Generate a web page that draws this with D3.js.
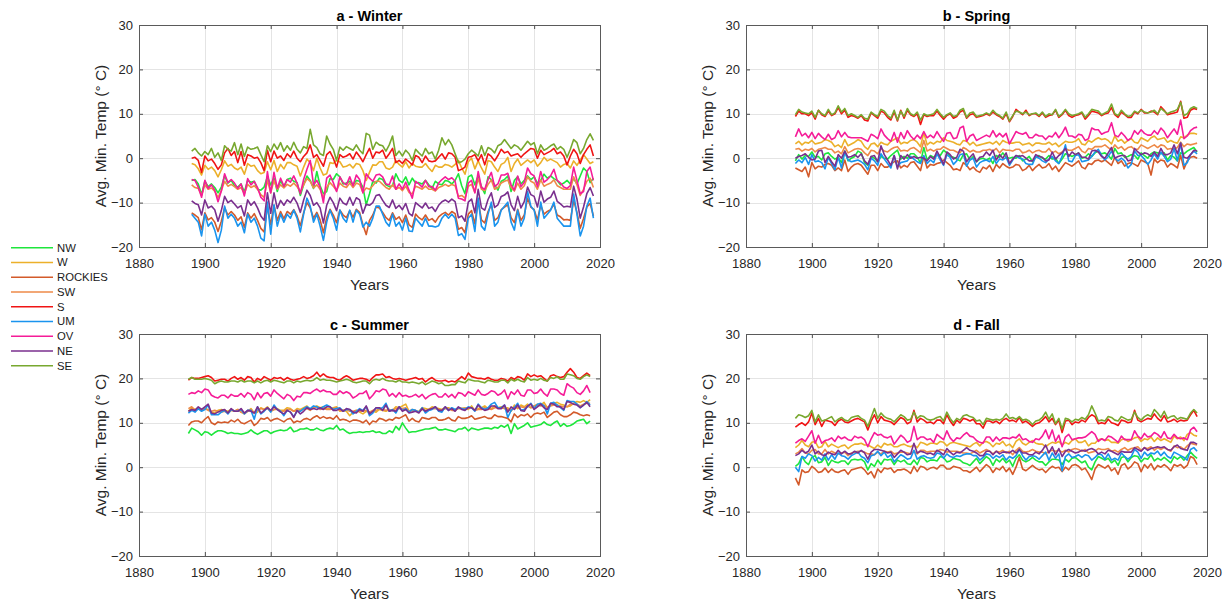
<!DOCTYPE html>
<html><head><meta charset="utf-8">
<script src="https://cdn.jsdelivr.net/npm/d3@7"></script>
<style>body{margin:0;background:#fff;} svg{display:block;font-family:Arial,"Liberation Sans",sans-serif;}</style>
</head><body><svg id="chart" width="1231" height="604"></svg>
<script>
const regions = ["NW","W","ROCKIES","SW","S","UM","OV","NE","SE"];
const panelTitles = ["a - Winter","b - Spring","c - Summer","d - Fall"];
const startYears = [1896, 1895, 1895, 1895];
const xTicks = [1880,1900,1920,1940,1960,1980,2000,2020];
const yTicks = [-20,-10,0,10,20,30];
const xLabel = "Years";
const yLabel = "Avg. Min. Temp (\u00B0 C)";

// ---------- WINTER (1896-2018) ----------
const winter_NW = [-5.0,-4.8,-5.8,-8.2,
-5.2,-6.4,-5.8,-6.6,-7.8,-6.5,-4.0,-5.6,-5.0,-6.2,
-6.5,-5.8,-7.6,-5.0,-5.4,-5.2,-7.0,-7.2,-6.5,-4.2,
-6.0,-4.5,-7.5,-5.0,-6.5,-4.8,-4.5,-5.2,-5.5,-8.4,
-6.0,-4.0,-5.0,-6.8,-3.0,-6.2,-8.0,-7.5,-4.6,-4.8,
-3.5,-4.2,-5.8,-5.6,-5.2,-6.0,-5.0,-5.2,-6.5,-10.5,
-8.0,-5.2,-5.6,-4.5,-4.8,-6.0,-6.4,-6.2,-3.5,-5.0,
-5.5,-4.2,-6.0,-4.5,-5.6,-5.5,-5.8,-5.0,-6.0,-6.8,
-5.2,-5.8,-6.0,-5.0,-5.2,-5.8,-5.0,-3.5,-6.2,-8.0,
-4.2,-3.8,-6.0,-4.0,-6.4,-8.0,-4.2,-4.8,-6.0,-7.2,
-5.2,-4.8,-4.0,-7.5,-5.0,-4.2,-5.8,-5.0,-4.0,-4.8,
-4.2,-5.6,-5.0,-3.6,-4.5,-4.0,-4.6,-5.0,-6.0,-5.6,
-5.0,-5.8,-4.6,-5.8,-4.0,-2.2,-3.0,-5.5,-4.5];
const winter_W = [-1.2,-1.5,-2.4,-3.8,
-1.6,-2.5,-2.0,-2.8,-4.2,-2.6,-0.6,-1.8,-1.4,-2.2,
-2.6,-2.0,-3.6,-1.2,-1.8,-1.6,-2.8,-3.5,-3.2,-0.8,
-2.6,-0.5,-3.0,-1.4,-2.4,-1.0,-1.0,-1.5,-1.8,-4.0,
-2.0,-0.2,-1.0,-2.8,0.0,-2.2,-3.8,-3.5,-1.0,-1.2,
-0.5,-0.8,-2.0,-1.8,-1.4,-2.2,-1.2,-1.4,-2.8,-5.0,
-3.2,-1.5,-1.6,-0.8,-0.8,-2.2,-2.5,-2.0,-0.5,-1.4,
-2.0,-0.8,-2.2,-1.2,-1.8,-2.0,-2.0,-1.2,-2.2,-3.0,
-1.6,-2.0,-2.0,-1.4,-1.6,-2.0,-1.4,-0.5,-2.2,-3.6,
-0.8,0.0,-2.4,-0.6,-2.2,-3.6,-0.5,-0.8,-2.0,-3.0,
-1.4,-1.0,0.2,-3.0,-1.2,-0.2,-1.6,-1.0,-0.4,-1.0,
-0.4,-1.8,-1.0,0.2,-0.6,-0.2,-0.6,-1.0,-2.0,-1.4,
-1.2,-2.2,-0.6,-1.6,-0.4,0.8,-0.2,-1.2,-0.8];
const winter_ROCKIES = [-12.3,-12.8,-13.4,-16.1,
-12.3,-13.9,-13.4,-14.4,-16.5,-14.2,-11.2,-12.8,-12.0,-12.8,
-14.0,-13.2,-15.6,-12.3,-13.5,-12.5,-14.0,-15.8,-16.6,-10.8,
-15.0,-10.6,-14.0,-12.0,-13.6,-12.0,-12.6,-11.6,-13.0,-15.2,
-12.3,-10.0,-11.2,-13.5,-12.2,-13.9,-16.8,-13.4,-11.5,-12.8,
-14.5,-11.7,-12.8,-13.4,-11.8,-13.3,-11.5,-12.2,-15.0,-17.2,
-14.0,-12.8,-11.0,-11.2,-12.2,-13.4,-14.0,-12.3,-13.8,-13.2,
-14.5,-12.8,-15.0,-15.6,-12.6,-13.4,-13.9,-12.8,-14.0,-13.6,
-14.4,-13.2,-12.6,-12.2,-12.8,-12.0,-12.5,-16.0,-15.6,-16.8,
-12.6,-11.8,-14.8,-9.6,-13.9,-14.6,-12.0,-10.5,-14.0,-13.4,
-11.6,-11.0,-10.5,-13.4,-14.5,-11.5,-14.0,-12.8,-9.0,-11.0,
-11.6,-13.9,-10.6,-12.6,-12.0,-11.6,-10.4,-12.8,-13.2,-13.9,
-13.8,-14.0,-9.5,-12.2,-15.8,-13.6,-11.0,-10.2,-13.0];
const winter_SW = [-6.0,-6.6,-6.8,-8.4,
-6.0,-7.0,-6.7,-7.4,-8.8,-7.3,-5.2,-6.3,-5.9,-6.4,
-7.0,-6.6,-8.0,-5.9,-6.6,-6.2,-7.0,-8.2,-8.8,-5.0,
-7.8,-5.0,-7.0,-6.0,-6.7,-5.9,-6.3,-5.6,-6.4,-7.6,
-6.0,-4.6,-5.2,-6.7,-6.0,-7.0,-9.0,-6.6,-5.5,-6.3,
-7.3,-5.6,-6.3,-6.6,-5.6,-6.6,-5.6,-5.9,-7.7,-6.7,
-7.0,-6.2,-5.2,-5.2,-5.9,-6.6,-7.0,-6.0,-7.0,-6.6,
-7.3,-6.3,-7.7,-8.0,-6.3,-6.6,-7.0,-6.3,-7.0,-7.0,
-7.4,-6.6,-6.3,-5.9,-6.3,-5.9,-6.2,-8.6,-8.4,-9.0,
-6.3,-5.9,-7.7,-4.6,-7.0,-7.3,-5.9,-4.9,-7.0,-6.6,
-5.6,-5.2,-4.9,-6.6,-7.4,-5.6,-7.0,-6.2,-4.2,-5.2,
-5.6,-7.0,-4.9,-6.3,-5.9,-5.6,-4.9,-6.2,-6.6,-7.0,
-7.0,-7.0,-4.2,-6.0,-8.4,-7.0,-5.2,-4.5,-6.6];
const winter_S = [0.0,0.2,-0.5,-3.2,
0.5,-0.6,-0.2,-1.2,-2.5,-1.5,1.2,2.2,0.6,1.5,
-1.0,1.5,-1.6,0.8,0.5,0.0,0.2,-1.0,-2.8,1.8,
-0.8,1.6,0.0,0.5,-0.5,1.0,0.2,1.6,0.0,-0.8,
0.4,1.2,3.0,0.2,0.8,-0.5,-1.8,0.8,1.5,0.0,
-2.0,0.8,0.2,0.5,1.0,-0.2,1.4,0.4,-0.8,0.8,
2.2,0.0,1.4,1.2,1.8,0.0,1.0,2.2,-1.0,-0.5,
-1.2,-0.2,-0.8,-1.5,0.6,0.2,-1.0,0.5,-0.6,-0.8,
-0.6,0.2,1.0,-0.2,1.2,1.0,0.2,-2.8,-2.5,-2.0,
0.2,0.4,0.8,-0.6,0.8,-1.5,1.0,0.4,-0.6,0.6,
2.0,1.2,1.5,0.5,0.8,1.0,0.2,1.0,1.6,2.2,
2.0,0.0,1.8,0.8,1.2,1.6,2.2,1.0,1.4,0.5,
-1.5,0.5,2.0,1.0,-1.2,0.8,2.0,3.0,0.5];
const winter_UM = [-12.6,-13.5,-14.4,-17.5,
-12.6,-15.3,-14.4,-16.2,-19.0,-16.2,-10.8,-13.5,-12.6,-13.5,
-15.3,-14.4,-16.8,-12.6,-14.4,-13.5,-15.3,-18.0,-18.6,-9.9,
-17.1,-10.5,-15.3,-12.6,-14.4,-12.6,-13.5,-11.7,-13.5,-16.6,
-12.6,-9.0,-10.8,-14.4,-12.6,-15.3,-18.5,-14.4,-11.7,-13.5,
-16.2,-11.7,-13.5,-14.4,-11.7,-14.4,-11.7,-12.6,-15.5,-14.4,
-15.3,-13.5,-10.8,-10.8,-12.6,-14.4,-15.3,-12.6,-15.3,-14.4,
-16.2,-13.5,-16.4,-16.5,-13.5,-14.4,-15.3,-13.5,-15.3,-15.3,
-15.5,-15.2,-13.5,-12.6,-13.5,-12.6,-13.5,-17.4,-17.0,-18.3,
-13.5,-12.6,-16.5,-9.0,-15.3,-16.2,-12.6,-9.9,-15.3,-14.4,
-11.7,-10.8,-9.9,-14.4,-16.2,-11.7,-15.3,-13.5,-7.5,-10.8,
-11.7,-15.3,-9.9,-13.5,-12.6,-11.7,-9.9,-13.5,-14.4,-15.3,
-15.3,-15.3,-8.1,-12.6,-17.5,-15.3,-10.8,-9.0,-13.5];
const winter_OV = [-4.8,-5.0,-6.5,-8.8,
-5.0,-6.8,-6.0,-7.2,-9.8,-7.4,-3.5,-5.5,-4.8,-5.6,
-6.8,-5.8,-8.5,-4.6,-6.0,-5.2,-6.6,-8.8,-9.6,-3.0,
-7.8,-3.2,-6.8,-4.5,-6.3,-4.8,-5.4,-4.0,-5.6,-8.0,
-4.8,-2.5,-0.5,-6.0,-5.0,-6.5,-10.0,-4.5,-3.8,-5.5,
-7.5,-4.2,-5.5,-6.0,-4.2,-6.2,-3.8,-4.8,-7.8,-3.5,
-4.5,-5.2,-3.8,-3.6,-4.2,-5.8,-6.0,-4.0,-7.0,-5.8,
-7.0,-5.4,-7.2,-9.0,-5.2,-5.8,-6.5,-5.0,-6.4,-6.4,
-7.2,-5.6,-4.8,-4.2,-4.8,-4.4,-5.2,-9.0,-9.2,-9.6,
-5.6,-5.0,-7.8,-3.0,-6.6,-7.0,-4.8,-3.2,-6.4,-5.8,
-3.8,-3.8,-3.4,-6.0,-7.2,-4.0,-6.4,-5.4,-2.2,-3.5,
-4.0,-6.4,-3.0,-5.4,-4.8,-4.0,-2.5,-5.0,-5.6,-6.5,
-6.8,-6.2,-2.0,-5.0,-8.0,-7.5,-3.0,-2.0,-5.0];
const winter_NE = [-9.6,-10.2,-10.5,-12.8,
-9.4,-11.2,-10.8,-11.6,-14.2,-11.8,-8.6,-10.0,-9.5,-10.3,
-11.2,-10.7,-13.0,-9.4,-10.6,-9.8,-11.2,-13.0,-14.0,-7.8,
-12.4,-7.8,-11.3,-9.5,-10.6,-9.4,-10.0,-8.8,-10.1,-12.2,
-9.4,-7.2,-8.4,-10.6,-10.0,-11.2,-14.6,-10.6,-8.8,-10.0,
-11.8,-9.0,-10.1,-10.5,-8.8,-10.6,-8.9,-9.4,-12.4,-10.4,
-10.6,-10.0,-8.4,-8.2,-9.5,-10.6,-11.1,-9.4,-11.3,-10.6,
-11.6,-10.2,-12.4,-13.0,-10.0,-10.6,-11.2,-10.1,-11.3,-11.0,
-12.0,-10.6,-9.8,-9.4,-9.9,-9.2,-9.8,-13.4,-13.0,-14.2,
-9.9,-9.2,-12.3,-7.0,-11.2,-11.7,-9.3,-7.8,-11.1,-10.5,
-8.6,-8.3,-7.6,-10.5,-11.8,-8.6,-11.2,-9.8,-6.5,-8.2,
-8.6,-11.0,-7.4,-9.9,-9.2,-8.8,-7.4,-9.7,-10.3,-11.0,
-10.8,-11.0,-6.3,-9.2,-13.5,-11.0,-8.0,-6.6,-8.5];
const winter_SE = [1.6,2.2,1.2,0.5,
1.5,0.8,2.2,0.2,1.2,-0.5,2.8,2.0,1.6,3.5,
0.8,3.2,0.4,2.5,2.0,2.2,2.5,0.8,-0.8,2.8,
1.5,3.2,2.0,3.5,1.6,2.8,1.8,3.6,2.0,1.2,
2.6,2.2,6.5,3.0,2.4,1.0,0.6,5.0,3.2,2.0,
-0.5,2.5,1.8,2.6,2.2,1.8,3.0,1.8,1.0,5.6,
5.2,2.0,3.6,3.0,2.8,1.6,3.0,5.0,0.6,1.6,
0.5,1.8,1.0,-0.5,2.0,1.2,0.5,2.2,1.0,1.4,
-0.2,1.8,4.6,3.0,4.2,3.0,1.0,-1.0,-0.8,-0.2,
1.0,1.8,1.2,0.5,2.8,0.6,2.4,2.0,1.2,2.8,
3.2,4.2,3.2,2.2,3.0,2.6,1.8,2.8,3.8,3.0,
3.5,1.0,3.0,1.8,2.2,2.8,3.2,2.0,2.6,2.0,
0.2,2.0,4.2,3.5,1.0,2.2,4.2,5.5,4.0];

// ---------- SPRING (1895-2017) ----------
const spring_NW = [-0.6,0.8,-0.2,0.6,0.4,
1.4,0.2,0.4,-0.4,1.0,1.2,0.4,-0.2,0.2,-1.0,
1.6,-0.6,0.0,0.4,1.6,1.2,-1.0,-1.6,0.4,0.0,
-0.8,0.4,0.0,-0.2,0.6,1.2,1.8,-0.2,0.4,0.0,
1.0,1.0,0.2,-1.0,2.4,-0.4,0.6,0.2,0.8,0.6,
1.8,1.2,0.4,0.2,-0.2,-0.6,0.8,1.0,-0.4,0.4,
-0.8,-0.2,0.0,-0.4,0.0,-1.2,0.6,0.2,1.2,0.2,
0.0,0.2,0.0,0.6,-0.6,-0.2,0.4,-0.8,0.2,0.6,
0.0,-0.2,0.6,-0.2,0.0,-1.2,-0.2,1.0,0.8,0.4,
0.8,1.2,0.0,0.2,1.0,0.4,1.2,1.6,1.0,1.2,
0.6,-0.2,2.2,1.0,1.2,0.2,0.4,0.8,0.6,-0.2,
1.2,0.6,0.0,1.0,1.4,1.2,1.0,1.2,-0.4,0.6,
0.2,-0.6,1.2,1.0,1.6,2.0,2.4,1.4];
const spring_W = [3.2,3.8,3.0,3.6,3.4,
4.0,3.2,3.4,3.6,4.2,4.0,3.6,2.6,3.0,2.4,
4.2,2.8,3.2,3.6,4.2,3.8,2.6,2.0,3.2,3.4,
2.6,3.6,3.2,3.0,3.8,4.2,4.6,3.2,3.6,3.4,
4.0,4.2,3.6,2.6,5.8,3.0,3.6,3.2,3.8,3.6,
4.6,4.0,3.8,3.6,3.2,3.0,4.0,3.8,3.0,3.6,
2.8,3.0,3.2,3.4,3.6,3.2,3.8,3.0,4.0,3.6,
3.4,3.4,3.6,3.6,3.0,3.2,3.4,2.8,3.4,3.4,
3.2,3.2,3.6,3.0,3.4,2.6,3.2,3.8,3.6,3.6,
3.8,4.4,3.2,3.0,4.0,3.6,4.2,4.6,4.2,4.4,
4.0,3.2,5.0,3.8,4.2,3.4,4.0,4.4,3.6,3.4,
4.6,4.2,3.8,4.6,5.0,4.2,4.4,4.6,3.6,4.0,
3.6,3.4,4.8,4.6,5.2,5.6,5.6,5.4];
const spring_ROCKIES = [-2.2,-2.6,-3.0,-2.0,-4.2,
-1.0,-2.4,-1.8,-2.0,-1.4,-1.2,-1.6,-2.8,-2.2,-2.8,
-0.4,-3.0,-2.0,-1.4,-1.2,-1.6,-2.6,-3.6,-1.6,-1.6,
-2.8,-1.2,-2.0,-2.0,-1.4,-0.8,-0.6,-2.2,-1.6,-2.0,
-1.0,-0.8,-1.8,-2.8,0.4,-2.2,-1.4,-1.6,-1.2,-1.0,
-0.4,-1.0,-1.6,-2.6,-2.4,-2.8,-1.0,-1.6,-2.6,-2.0,
-2.8,-3.2,-2.0,-2.4,-1.6,-3.0,-1.4,-2.2,-1.2,-1.8,
-2.2,-2.0,-1.4,-1.6,-2.8,-2.4,-1.6,-2.8,-2.0,-1.4,
-2.2,-2.0,-1.2,-2.6,-1.8,-3.0,-2.0,-1.0,-1.4,-1.8,
-1.2,-0.6,-2.0,-2.4,-1.2,-1.4,-0.6,-0.4,-0.8,-0.4,
-1.0,-1.6,0.2,-1.2,-0.6,-1.8,-1.2,-1.0,-1.4,-1.8,
-0.4,-0.8,-1.2,-3.8,-0.2,-1.0,-0.4,-0.6,-2.0,-1.2,
-1.6,-2.2,0.6,-2.4,-0.6,0.2,0.4,0.0];
const spring_SW = [2.0,2.2,1.6,2.0,1.8,
2.2,1.4,2.0,2.2,2.4,2.0,2.0,1.2,1.6,1.0,
2.6,1.2,1.6,2.0,2.2,2.0,1.2,0.6,1.8,1.6,
1.0,2.2,1.6,1.4,2.0,2.4,2.6,1.6,1.8,1.6,
2.2,2.4,1.8,1.2,4.0,1.6,2.0,1.6,2.0,2.0,
2.6,2.2,1.8,1.8,1.4,1.2,2.4,2.0,1.4,1.8,
1.4,1.4,1.8,1.8,2.0,1.6,2.2,1.2,2.0,1.8,
1.8,1.6,2.0,2.0,1.2,1.4,1.8,1.2,1.6,1.8,
1.4,1.4,2.2,1.2,1.6,1.0,1.4,2.2,1.8,1.8,
2.2,2.6,1.6,1.2,2.2,2.0,2.6,2.6,2.6,3.0,
2.4,1.8,3.0,2.2,2.6,1.8,2.4,2.6,2.0,2.0,
3.0,2.6,2.2,2.6,3.0,2.4,3.0,2.8,2.0,2.2,
2.0,2.4,3.6,2.6,3.2,3.0,3.2,3.4];
const spring_S = [9.4,10.6,10.0,10.0,9.6,
10.2,8.8,10.8,9.8,9.4,10.6,9.6,10.0,11.4,10.0,
10.8,9.2,9.6,9.4,9.0,9.6,8.6,8.4,10.2,9.6,
9.0,10.6,10.2,9.2,8.6,10.4,8.4,10.8,9.0,10.8,
9.8,9.4,10.0,7.6,9.8,9.4,9.6,9.6,10.6,9.6,
8.8,9.6,10.0,9.0,9.4,10.4,10.8,9.0,9.8,10.0,
9.2,9.4,9.6,10.0,9.6,10.4,9.8,9.4,8.8,10.0,
8.2,9.4,11.0,10.4,9.8,10.8,9.6,10.0,10.0,9.4,
10.2,9.2,9.6,9.8,10.8,9.2,9.8,10.8,9.6,9.2,
9.6,9.8,10.2,8.8,9.6,10.6,10.4,10.2,9.6,10.0,
10.2,11.4,9.8,9.2,10.4,9.8,9.2,9.2,10.4,10.0,
11.0,10.2,10.2,10.6,10.4,9.8,11.6,10.8,9.8,10.0,
10.2,10.4,12.8,9.0,9.2,10.8,11.2,11.0];
const spring_UM = [-1.2,-0.4,-1.0,0.2,-1.4,
0.8,-0.8,-0.6,-1.0,-2.4,0.2,-1.2,-2.6,0.2,-2.2,
1.4,-0.4,-0.8,-0.6,-0.4,-0.8,-1.4,-2.6,0.0,-0.6,
-1.6,1.0,-0.2,-1.2,-2.2,0.6,-2.0,-1.0,-0.8,-0.6,
0.4,-0.2,-0.8,-1.2,0.6,-1.2,-0.4,-1.0,1.0,-0.4,
-1.6,0.8,0.2,-1.4,-0.6,0.8,1.0,-1.8,-0.4,0.0,
-2.0,-1.0,-0.6,-0.4,-0.8,0.4,-1.2,-0.2,-0.4,0.2,
-1.6,-0.4,0.6,0.0,-0.2,-1.2,-1.4,-1.4,0.4,0.0,
-0.6,-1.0,-0.2,0.4,-0.6,-1.2,0.4,3.0,-0.6,-0.8,
0.6,0.8,-0.8,-0.6,-0.4,0.4,1.4,2.0,0.6,-0.4,
0.4,1.6,0.0,-0.6,0.0,-0.6,-2.2,-1.4,1.6,0.6,
0.6,-0.2,-1.4,-0.4,1.0,-0.2,1.4,0.4,-0.8,-0.2,
2.2,-0.6,3.4,-1.6,-1.0,0.8,1.6,1.0];
const spring_OV = [4.8,6.6,5.0,5.6,4.6,
5.8,4.4,5.6,4.8,4.2,5.4,4.2,4.6,6.2,4.8,
5.8,4.8,4.6,4.6,4.6,4.6,4.2,3.8,5.4,5.0,
4.4,6.6,5.2,4.4,3.8,5.8,3.6,5.8,4.4,6.2,
5.0,4.2,5.2,4.4,6.0,4.6,5.2,4.6,6.0,4.8,
3.8,5.6,5.8,4.4,4.6,6.8,7.2,3.8,5.0,5.4,
4.0,4.4,4.8,5.2,4.8,6.2,4.8,5.6,4.8,5.6,
3.2,4.6,6.0,5.6,5.4,5.8,4.6,4.6,5.4,5.0,
5.0,4.2,5.0,4.8,5.8,4.6,5.6,7.0,5.0,5.0,
4.6,5.4,5.2,4.0,4.4,6.8,6.4,6.4,5.4,5.8,
6.0,8.0,5.2,4.8,5.8,5.0,4.0,4.6,6.2,5.4,
6.4,5.6,5.2,5.2,6.2,5.4,6.8,6.0,4.6,5.6,
6.6,5.4,8.6,4.4,5.0,6.2,6.8,7.0];
const spring_NE = [0.0,0.4,0.6,1.0,0.2,
-0.4,-0.2,1.6,1.8,-1.0,0.4,-0.8,-1.8,0.8,0.0,
1.6,0.2,0.4,0.8,0.2,1.0,-0.6,-1.4,0.4,0.6,
-0.8,2.8,0.8,-0.4,-1.6,0.6,-2.4,0.6,-0.2,0.8,
0.0,0.4,0.0,0.2,0.0,-0.6,0.4,-0.2,1.6,0.2,
-1.4,1.4,0.8,-0.2,0.2,2.0,1.6,-0.8,0.2,1.0,
-0.8,0.2,0.4,1.4,0.6,1.8,-0.4,0.8,0.0,1.2,
-1.2,-0.2,0.6,0.4,0.6,0.0,-0.6,-0.6,0.8,0.4,
0.2,-0.6,-0.4,1.4,-0.2,0.6,1.2,2.2,0.4,1.4,
0.8,1.2,0.2,0.2,-0.2,1.6,1.8,1.4,0.4,0.0,
1.2,2.4,0.0,0.4,0.6,0.6,-0.6,-0.4,2.2,1.4,
0.8,1.2,1.0,0.4,1.4,0.4,2.2,0.8,0.8,1.2,
3.0,1.0,3.4,0.2,0.0,0.8,1.8,1.6];
const spring_SE = [9.8,11.0,10.4,10.2,10.0,
10.6,9.2,10.8,10.0,9.6,11.0,9.8,10.2,11.8,10.4,
11.2,9.6,10.0,9.6,9.2,9.8,9.0,8.8,10.4,9.8,
9.4,11.0,10.6,9.6,9.0,10.8,8.6,10.6,9.4,11.2,
10.0,9.6,10.4,8.6,10.0,9.6,9.8,10.0,11.0,10.0,
9.2,9.8,10.2,9.4,9.6,10.8,11.2,9.2,10.2,10.4,
9.4,9.6,9.8,10.2,9.8,10.8,10.0,9.6,9.0,10.4,
8.4,9.6,10.6,10.4,10.0,10.4,9.8,10.0,10.2,9.6,
10.4,9.4,10.0,9.8,11.0,9.4,10.0,11.0,10.0,9.6,
9.8,10.0,10.4,9.2,10.0,11.0,10.8,10.6,9.8,10.2,
10.6,12.2,10.0,9.6,10.8,10.0,9.4,9.6,10.6,10.2,
10.8,10.4,10.2,10.4,10.8,10.0,11.2,10.6,10.0,10.4,
10.6,11.0,12.6,9.6,10.0,11.2,11.6,11.2];

// ---------- SUMMER (1895-2017) ----------
const summer_NW = [7.6,8.8,8.4,8.0,7.2,
8.0,7.8,7.2,7.8,8.2,8.2,8.0,7.6,7.8,7.6,
7.6,7.4,7.6,7.8,8.4,7.8,7.4,7.8,8.2,8.2,
7.6,8.0,8.2,8.4,8.2,8.4,9.0,8.0,8.2,8.6,
8.6,8.8,8.4,8.4,8.8,8.4,8.2,8.6,8.8,8.6,
9.4,8.4,8.6,8.0,7.6,7.8,7.8,8.0,7.8,8.0,
8.0,8.2,7.8,8.0,7.6,7.6,8.2,7.8,9.2,8.4,
10.0,8.8,7.8,8.0,8.0,8.2,8.4,8.6,8.6,8.8,
9.0,8.4,8.4,8.6,8.4,8.2,8.0,8.6,8.6,9.0,
8.2,8.8,8.6,8.4,8.6,8.8,8.8,8.6,9.0,8.8,
9.4,9.0,9.6,7.6,9.8,8.6,9.0,9.4,10.0,9.0,
9.2,9.4,9.6,10.2,9.6,9.4,10.0,10.4,9.2,9.8,
9.2,9.4,9.8,10.4,10.6,10.8,9.8,10.4];
const summer_W = [12.6,13.4,13.0,13.2,12.8,
13.2,13.0,12.4,12.2,12.8,13.0,12.8,12.6,13.0,12.6,
13.0,12.4,12.0,12.6,13.2,12.2,12.4,13.4,13.0,13.6,
12.6,13.0,13.2,12.8,12.8,13.4,13.2,12.6,13.2,13.0,
13.4,13.8,13.0,13.4,13.8,13.4,13.6,13.2,13.2,13.4,
13.6,12.6,12.8,12.6,11.6,12.4,12.8,12.4,12.0,12.6,
12.4,12.6,12.4,13.0,12.8,12.6,13.0,12.8,13.6,13.4,
13.8,14.2,12.6,12.8,12.6,12.6,13.4,13.2,13.0,13.6,
13.4,13.2,13.0,13.4,13.4,13.0,12.8,13.4,13.2,13.4,
13.0,13.8,12.8,13.2,13.4,13.8,13.2,13.2,13.8,13.4,
13.6,13.2,13.4,12.6,14.0,13.2,14.0,13.6,14.2,13.4,
13.8,14.2,14.0,14.6,13.4,14.0,14.4,14.6,14.2,14.0,
13.6,13.8,14.4,14.8,14.6,15.0,14.6,15.2];
const summer_ROCKIES = [9.4,10.2,10.4,10.4,10.0,
10.8,11.4,10.0,9.6,10.2,10.0,10.2,10.0,10.6,10.2,
10.8,10.0,9.8,10.2,10.6,9.4,10.0,11.0,10.8,11.2,
10.4,10.8,11.0,10.6,10.2,10.8,11.0,10.0,10.4,10.2,
10.8,11.0,10.6,11.2,11.6,11.0,11.4,11.0,11.2,10.8,
11.6,10.6,10.8,10.6,10.2,10.6,10.6,10.4,10.0,10.6,
9.6,10.4,10.2,11.0,10.8,10.4,10.8,10.6,11.2,11.0,
11.4,11.8,10.4,11.0,10.4,10.2,11.2,11.0,10.8,11.2,
11.2,10.6,10.6,10.8,11.2,10.6,10.4,11.4,11.0,11.0,
11.2,11.6,10.8,11.0,11.2,11.4,11.0,11.0,11.8,11.4,
11.4,11.2,11.0,10.2,12.0,11.2,11.8,11.6,12.0,11.2,
12.0,12.2,12.0,12.4,11.2,11.8,12.4,12.6,11.8,11.4,
11.4,11.8,12.4,12.2,11.8,11.6,11.8,11.6];
const summer_SW = [13.2,13.6,12.8,13.4,13.0,
13.2,12.8,12.6,12.8,12.6,12.4,12.6,12.2,12.8,12.6,
13.0,12.4,12.2,12.6,13.0,12.2,12.8,13.2,13.0,13.2,
12.6,13.0,13.0,12.6,12.6,13.0,13.0,12.6,12.8,12.8,
13.0,13.2,12.8,13.4,13.6,13.0,13.2,13.0,13.0,13.2,
13.4,12.8,12.8,13.0,12.6,12.6,12.8,12.6,12.6,12.8,
12.4,12.8,12.8,13.2,13.0,12.8,13.0,12.8,13.2,13.2,
13.2,13.4,12.6,13.0,12.8,12.4,13.0,12.8,12.8,13.2,
13.2,13.0,12.8,13.2,13.2,12.8,12.8,13.2,13.2,13.2,
13.4,13.4,12.8,13.0,13.0,13.4,13.2,13.0,13.4,13.4,
13.4,13.2,13.0,12.8,13.6,13.4,13.6,13.4,13.8,13.4,
13.8,14.0,13.8,14.0,13.4,13.8,14.0,14.0,13.8,13.6,
13.6,14.2,14.2,14.2,13.8,14.2,14.4,14.4];
const summer_S = [19.6,20.2,20.0,20.0,20.2,
20.4,20.6,20.2,19.4,19.6,19.8,19.8,19.4,20.0,20.4,
19.8,20.2,19.6,20.4,20.2,19.2,20.0,19.6,20.4,20.0,
19.6,20.2,20.0,20.2,19.6,20.2,19.8,19.6,19.8,20.0,
20.4,20.0,20.2,20.6,21.4,20.4,21.0,20.4,20.2,20.2,
19.8,19.6,20.2,20.6,20.2,19.6,19.8,20.0,20.0,19.8,
19.4,20.2,20.8,20.8,21.0,20.2,20.4,20.0,19.8,20.0,
19.8,19.6,19.8,20.0,20.2,19.8,20.0,19.2,19.8,20.2,
19.6,19.4,19.4,19.6,19.2,19.4,19.2,19.8,20.4,19.8,
21.2,20.4,20.2,20.0,20.0,19.8,20.2,19.8,19.6,19.6,
20.0,19.8,19.4,20.2,19.8,20.4,20.2,19.6,21.0,20.4,
20.8,20.4,20.6,20.0,19.4,20.6,20.8,20.4,20.2,20.4,
21.4,22.2,21.4,20.2,20.0,20.6,21.2,20.6];
const summer_UM = [12.2,12.8,12.4,13.2,12.6,
13.0,14.0,11.8,11.8,11.8,12.4,12.8,12.0,13.0,12.6,
12.6,13.0,12.0,12.8,12.8,10.8,13.6,12.0,12.6,13.4,
12.4,14.0,13.0,12.6,11.6,12.8,12.4,11.4,12.6,12.6,
13.2,13.6,13.2,13.8,13.6,13.2,13.6,14.0,13.6,13.0,
13.2,13.4,12.6,13.0,13.0,12.0,12.6,13.2,12.8,13.6,
11.6,12.2,13.4,13.2,13.4,14.4,12.6,13.0,12.2,13.6,
12.8,13.2,12.4,13.0,12.8,12.4,13.4,12.2,12.8,13.0,
13.6,12.6,12.4,13.6,12.8,13.4,13.0,13.4,13.2,13.0,
13.6,13.4,12.6,14.2,13.4,13.0,13.4,14.2,14.6,13.4,
13.4,14.0,11.2,12.8,13.4,14.4,12.8,13.0,13.6,14.4,
13.2,14.2,14.4,13.8,12.0,14.4,14.6,14.0,13.4,12.8,
15.0,14.8,14.8,14.2,13.4,14.0,14.8,14.0];
const summer_OV = [16.4,16.8,16.6,17.2,16.8,
17.6,17.4,16.2,15.8,15.6,16.2,16.2,15.6,16.4,16.0,
16.0,16.6,15.8,16.8,16.4,15.2,16.8,15.6,16.6,16.8,
16.0,17.4,16.6,16.0,15.4,16.4,16.0,15.0,16.0,15.8,
16.8,16.8,16.6,17.2,17.6,17.0,17.4,17.0,17.0,16.4,
16.4,17.2,16.6,17.0,16.6,15.6,16.0,16.6,16.6,17.2,
15.4,16.2,17.2,17.0,17.6,17.4,16.0,16.6,15.8,16.8,
16.0,16.2,15.8,16.0,16.4,15.8,16.4,15.4,16.0,16.4,
16.6,15.8,15.8,16.6,15.8,16.4,15.6,16.8,16.6,16.0,
17.0,16.6,16.2,17.4,16.4,16.2,16.6,17.2,17.0,16.2,
16.6,17.4,15.4,17.0,16.4,17.4,16.2,16.0,17.4,17.4,
16.6,16.8,17.6,16.6,16.0,17.6,17.6,17.4,16.6,16.2,
18.8,18.2,17.8,16.8,16.4,17.2,18.4,16.8];
const summer_NE = [12.6,13.0,12.8,13.6,13.0,
13.6,14.2,12.2,12.0,12.4,12.8,13.0,12.2,13.2,12.6,
12.6,13.2,12.2,12.8,12.6,12.2,13.6,12.2,12.8,13.4,
12.8,13.6,13.0,12.4,12.0,12.8,12.4,11.2,12.8,12.0,
12.6,13.4,13.0,13.2,13.0,13.4,13.0,13.6,13.6,12.8,
12.8,13.2,12.6,13.2,13.0,12.4,12.2,13.0,12.6,13.8,
12.0,12.6,13.4,13.4,12.8,14.0,12.6,12.8,12.6,13.6,
12.6,13.0,12.2,12.4,12.6,12.2,13.2,12.6,13.0,13.2,
13.6,12.8,12.8,13.6,12.8,13.2,12.6,13.6,13.0,12.8,
13.4,13.4,12.8,14.0,13.2,12.8,13.0,13.8,13.8,13.2,
13.2,14.0,12.4,13.6,13.0,14.0,12.8,12.6,13.8,14.2,
13.0,13.6,14.2,13.4,13.0,14.4,14.2,13.6,13.6,13.0,
14.8,14.6,14.2,14.0,13.4,14.0,14.6,13.6];
const summer_SE = [19.8,20.2,19.8,19.8,19.8,
20.0,19.8,19.6,18.8,19.2,19.4,19.2,19.2,19.4,19.4,
19.2,19.6,19.2,19.4,19.4,19.0,19.4,19.0,19.4,19.6,
19.2,19.6,19.4,19.2,19.0,19.4,19.4,19.0,19.4,19.2,
19.4,19.6,19.4,19.6,20.2,19.6,19.8,19.6,19.6,19.4,
19.2,19.4,19.6,19.8,19.6,19.2,19.0,19.2,19.4,19.4,
18.8,19.6,19.8,19.6,20.0,19.6,19.4,19.4,19.2,19.6,
19.2,19.2,19.0,19.2,19.0,18.8,19.2,18.6,19.0,19.4,
19.2,18.8,19.0,18.4,18.4,18.6,18.6,19.4,19.2,19.0,
19.8,19.6,19.4,19.4,19.2,19.0,19.6,19.4,19.2,19.2,
19.6,19.6,19.0,19.8,19.4,19.8,19.4,19.2,20.2,19.6,
19.8,19.6,20.0,19.6,19.4,20.2,20.0,20.4,19.8,19.8,
21.0,20.8,20.6,20.0,19.8,20.4,20.8,20.4];

// ---------- FALL (1895-2017) ----------
const fall_NW = [0.2,0.8,2.4,1.2,0.6,
2.2,2.6,1.0,1.2,2.2,0.4,1.6,1.2,1.0,1.4,
1.4,0.6,1.6,1.8,1.6,1.8,1.2,-0.6,0.8,0.2,
1.6,0.6,1.8,1.6,1.8,0.6,1.6,1.2,1.6,0.8,
0.6,1.6,0.6,2.2,2.0,1.2,1.6,1.6,1.4,2.4,
2.2,1.2,1.4,2.0,1.8,1.6,1.0,0.8,0.4,1.2,
2.0,0.8,1.6,2.4,1.8,0.4,1.8,1.2,2.0,1.0,
1.6,0.2,2.0,2.8,1.6,1.2,1.6,2.2,1.6,1.2,
1.2,0.4,1.2,1.8,1.8,1.6,0.6,1.8,1.2,2.0,
2.2,1.6,1.0,1.4,0.0,-0.6,1.2,2.4,2.0,1.6,
2.0,1.0,1.6,0.4,2.2,2.4,1.2,2.2,2.6,2.4,
1.2,2.0,1.8,2.8,1.4,2.0,1.6,2.2,1.6,1.0,
2.4,1.8,2.4,1.6,2.6,3.4,2.6,2.0];
const fall_W = [4.4,5.0,6.0,5.0,4.6,
5.6,5.8,4.4,4.6,5.8,4.6,5.2,4.8,4.4,4.8,
5.0,4.2,4.8,5.2,5.2,5.4,5.0,5.0,4.6,4.2,
5.0,4.4,5.4,5.0,5.2,4.6,4.6,5.0,5.2,4.8,
4.6,5.0,4.4,5.6,5.4,5.0,5.4,5.4,5.2,5.8,
5.6,4.8,5.4,5.6,5.4,5.2,5.0,4.8,4.6,5.2,
5.6,4.8,5.6,5.8,5.4,4.6,5.4,5.2,5.8,4.8,
5.2,4.4,5.8,6.4,5.4,5.0,5.6,6.0,5.4,5.2,
5.2,4.6,5.2,5.6,5.4,5.8,5.0,5.6,5.2,6.0,
6.4,5.6,5.6,6.0,4.8,5.4,5.4,6.2,6.4,6.0,
6.2,5.6,5.6,5.4,6.2,6.4,5.8,6.2,6.6,6.8,
5.8,6.4,6.2,6.8,5.8,6.6,6.0,6.4,6.0,5.6,
7.0,6.4,6.8,6.0,7.4,7.8,7.2,7.0];
const fall_ROCKIES = [-2.4,-4.0,-0.6,-1.2,-1.0,
0.2,-0.4,-1.2,-1.0,-0.2,-1.2,-0.4,-1.0,-1.2,-0.8,
-0.6,-1.6,-0.6,-0.4,-0.2,0.0,-0.6,-1.6,-1.0,-2.4,
-0.4,-1.2,-0.2,-0.4,-0.2,-1.2,-0.6,-0.6,-0.4,-0.8,
-1.4,0.2,-1.0,0.2,0.0,-0.6,-0.2,0.0,-0.4,0.4,
0.4,-0.4,-0.4,0.2,0.0,-0.2,-0.8,-0.8,-1.2,-0.6,
0.0,-1.0,-0.2,0.6,0.0,-1.2,-0.2,-0.6,0.2,-1.0,
-0.2,-1.6,0.0,2.2,-0.4,-0.8,-0.2,0.4,-0.2,-0.6,
-0.4,-1.2,-0.4,0.2,-0.2,0.0,-1.0,0.0,-0.6,0.4,
0.6,0.2,-0.6,-0.2,-1.4,-2.8,-0.4,0.6,0.2,-0.2,
0.4,-0.8,-0.2,-1.6,0.4,0.8,-0.4,0.2,1.2,0.8,
-1.0,0.6,-0.2,0.8,-0.6,0.4,0.0,0.6,0.0,-0.8,
0.6,0.2,0.6,-0.2,0.4,2.4,2.0,0.6];
const fall_SW = [3.0,3.4,4.2,3.2,3.0,
3.8,4.0,3.0,3.0,4.0,3.0,3.6,3.2,3.0,3.2,
3.4,2.6,3.2,3.4,3.6,3.6,3.4,3.0,3.0,2.8,
3.4,3.0,3.6,3.4,3.6,3.0,3.2,3.4,3.4,3.2,
3.0,3.6,3.0,3.8,3.8,3.4,3.6,3.6,3.6,4.0,
3.8,3.4,3.6,3.6,3.6,3.4,3.2,3.2,3.0,3.4,
3.8,3.2,3.6,4.0,3.6,3.0,3.6,3.4,3.8,3.2,
3.6,2.8,3.8,4.4,3.6,3.4,3.6,4.0,3.6,3.4,
3.4,3.0,3.6,3.8,3.6,3.8,3.4,3.8,3.4,4.0,
4.2,4.0,3.6,4.0,3.2,3.4,3.6,4.2,4.0,4.0,
4.2,3.6,3.8,3.4,4.0,4.4,3.8,4.2,4.4,4.6,
3.8,4.4,4.2,4.6,3.8,4.4,4.0,4.4,4.0,3.6,
4.8,4.4,4.6,4.0,4.8,5.4,5.2,5.0];
const fall_S = [9.0,9.6,10.0,9.4,10.2,
12.2,9.6,11.0,9.2,10.6,10.4,10.2,9.4,10.4,10.8,
10.2,10.0,10.4,10.8,11.0,10.6,10.2,8.4,10.4,11.8,
10.0,11.4,10.6,10.4,10.2,9.6,10.4,11.2,10.8,9.8,
10.2,12.8,10.2,11.0,10.6,10.0,10.2,9.8,10.6,10.6,
9.8,11.8,10.4,9.4,10.6,10.0,11.0,10.8,10.4,10.8,
9.8,9.8,8.8,10.4,10.4,10.0,10.4,9.8,10.6,11.0,
10.4,10.6,10.2,11.2,10.0,10.4,9.8,9.2,9.8,10.0,
10.6,11.4,10.2,11.0,9.6,10.6,7.8,10.4,10.6,9.6,
10.2,10.0,10.6,10.2,11.2,11.8,11.4,9.8,10.0,9.8,
10.8,10.0,9.8,9.4,10.6,10.4,10.0,10.2,12.8,10.6,
10.2,10.6,11.0,10.8,12.0,11.0,10.4,11.6,10.2,10.4,
10.8,10.2,10.6,10.4,10.6,11.8,12.8,11.4];
const fall_UM = [0.0,-1.0,2.4,2.0,3.0,
2.6,1.4,2.2,1.6,3.0,1.6,2.8,1.8,3.2,2.6,
2.4,1.8,2.6,3.0,3.4,2.4,2.0,1.0,2.6,2.8,
3.6,2.6,3.4,2.2,2.8,1.2,2.0,2.8,2.4,1.8,
2.0,3.8,1.8,2.4,2.6,2.2,2.0,2.2,3.2,3.0,
2.0,3.0,2.4,2.2,2.6,2.4,2.8,3.0,3.0,2.6,
2.6,1.6,2.2,3.0,2.8,2.0,2.6,2.2,2.8,1.6,
2.4,2.0,2.6,4.0,2.6,1.6,2.4,2.6,2.4,1.8,
2.6,3.4,1.6,3.2,2.0,3.0,-0.8,2.4,3.0,2.2,
2.4,2.8,2.2,2.8,2.6,1.6,2.2,3.0,2.8,1.8,
3.0,1.6,2.0,1.6,3.2,2.4,1.8,2.4,4.0,3.4,
2.0,3.4,2.6,3.2,3.0,3.6,2.6,3.4,2.4,2.0,
3.4,3.0,2.6,2.2,1.6,4.0,4.4,3.6];
const fall_OV = [5.4,6.0,6.4,5.8,7.0,
8.2,5.4,7.2,5.4,6.0,6.2,6.6,5.8,7.0,6.4,
6.8,6.2,6.0,7.0,6.6,6.8,6.2,4.6,6.4,7.8,
7.2,7.4,6.8,6.6,7.0,5.2,6.2,7.2,6.6,5.6,
6.0,9.2,6.2,6.8,6.8,6.2,6.4,5.6,7.4,6.8,
6.2,8.2,6.6,5.8,6.6,6.4,7.2,7.8,7.0,6.8,
6.0,5.6,5.4,6.8,6.8,5.8,6.8,6.0,6.6,6.6,
6.4,6.8,6.6,7.4,6.2,6.4,5.8,5.6,6.4,6.2,
7.0,8.4,6.4,8.4,5.8,7.2,4.6,6.8,7.4,6.2,
6.4,6.6,6.6,6.8,7.4,8.0,7.4,5.8,6.4,6.0,
7.0,6.8,6.2,5.6,7.0,6.2,6.2,6.2,8.2,7.0,
6.4,7.6,6.8,7.0,7.8,7.4,6.6,8.0,6.6,6.4,
7.4,6.6,6.4,6.6,6.2,8.4,9.0,8.0];
const fall_NE = [2.6,3.0,3.8,3.2,3.6,
5.0,3.0,3.6,2.8,2.6,3.4,3.0,2.8,3.8,3.0,
3.6,3.0,3.0,3.6,3.2,3.8,3.2,1.8,3.4,4.0,
4.0,3.8,3.6,3.2,3.4,2.2,3.0,3.8,3.4,2.8,
3.0,5.4,3.2,3.6,3.4,3.0,3.2,2.8,3.8,3.4,
2.8,4.2,3.4,2.8,3.4,3.2,3.8,4.4,3.8,3.6,
3.2,2.6,2.6,3.6,3.6,2.8,3.6,3.0,3.4,3.4,
3.2,3.8,3.2,4.0,3.2,3.2,2.8,2.8,3.4,3.0,
3.8,5.0,3.2,4.6,2.8,4.2,2.4,3.6,4.0,3.6,
3.2,3.4,3.8,3.6,4.0,4.2,3.8,3.0,3.4,3.0,
3.8,3.6,3.2,2.8,3.6,3.4,3.4,3.4,4.4,4.0,
3.6,4.4,3.8,4.2,4.4,4.6,4.4,4.6,4.0,3.8,
4.6,5.0,4.2,4.0,3.8,5.6,5.6,5.2];
const fall_SE = [11.0,11.8,11.6,11.2,11.6,
12.8,10.2,11.8,10.4,10.6,11.0,11.4,10.2,10.8,11.2,
10.6,10.4,11.2,11.4,11.6,11.0,10.6,9.2,11.2,13.2,
11.0,12.2,11.4,11.0,10.8,10.2,11.0,11.8,11.4,10.6,
10.8,12.4,11.0,11.6,11.4,10.8,10.6,10.8,11.2,11.4,
10.4,12.4,11.0,10.0,11.0,10.6,11.6,11.8,11.4,11.2,
10.4,10.6,9.6,11.0,10.8,10.6,10.8,10.6,11.0,12.0,
11.0,11.2,10.8,11.4,10.6,10.8,10.4,9.6,10.4,10.6,
11.2,12.4,10.8,12.0,9.8,11.0,8.6,11.0,10.8,10.2,
10.8,10.6,11.2,10.8,11.8,13.8,12.2,10.4,10.6,10.4,
11.4,11.2,10.6,10.4,11.4,11.0,10.6,10.8,12.4,11.2,
10.6,11.4,11.8,11.4,13.0,12.2,11.2,12.6,11.0,11.4,
11.6,10.8,11.2,11.0,10.8,12.2,13.0,12.2];

// ---------- assembly ----------
const seasonSeries = [
  {NW:winter_NW, W:winter_W, ROCKIES:winter_ROCKIES, SW:winter_SW, S:winter_S, UM:winter_UM, OV:winter_OV, NE:winter_NE, SE:winter_SE},
  {NW:spring_NW, W:spring_W, ROCKIES:spring_ROCKIES, SW:spring_SW, S:spring_S, UM:spring_UM, OV:spring_OV, NE:spring_NE, SE:spring_SE},
  {NW:summer_NW, W:summer_W, ROCKIES:summer_ROCKIES, SW:summer_SW, S:summer_S, UM:summer_UM, OV:summer_OV, NE:summer_NE, SE:summer_SE},
  {NW:fall_NW, W:fall_W, ROCKIES:fall_ROCKIES, SW:fall_SW, S:fall_S, UM:fall_UM, OV:fall_OV, NE:fall_NE, SE:fall_SE}
];

// styles
const colors = {NW:"#1ee63c", W:"#ecb02a", ROCKIES:"#d35a2a", SW:"#ee8a48", S:"#f01414", UM:"#1a94ee", OV:"#f51c98", NE:"#7a2f8e", SE:"#78a82f"};
const panelPos = [{left:139, top:25}, {left:746, top:25}, {left:139, top:334}, {left:746, top:334}];
const PW = 461, PH = 222;
const FONT = "Arial, 'Liberation Sans', sans-serif";

const svg = d3.select("#chart");

seasonSeries.forEach((series, p) => {
  const pos = panelPos[p];
  const g = svg.append("g").attr("transform", `translate(${pos.left},${pos.top})`);
  const x = d3.scaleLinear().domain([1880, 2020]).range([0, PW]);
  const y = d3.scaleLinear().domain([-20, 30]).range([PH, 0]);

  // grid
  g.append("g").selectAll("line").data(xTicks).join("line")
    .attr("x1", d => Math.round(x(d)) + 0.5).attr("x2", d => Math.round(x(d)) + 0.5)
    .attr("y1", 0).attr("y2", PH).attr("stroke", "#e4e4e4").attr("stroke-width", 1);
  g.append("g").selectAll("line").data(yTicks).join("line")
    .attr("y1", d => Math.round(y(d)) + 0.5).attr("y2", d => Math.round(y(d)) + 0.5)
    .attr("x1", 0).attr("x2", PW).attr("stroke", "#e4e4e4").attr("stroke-width", 1);

  // lines
  const start = startYears[p];
  const line = d3.line().x((d, i) => x(start + i)).y(d => y(d));
  regions.forEach(r => {
    g.append("path").datum(series[r]).attr("d", line)
      .attr("fill", "none").attr("stroke", colors[r]).attr("stroke-width", 1.6)
      .attr("stroke-linejoin", "round");
  });

  // axes
  const styleAxis = a => {
    a.attr("font-family", FONT).attr("font-size", 13);
    a.select(".domain").remove();
    a.selectAll(".tick line").attr("stroke", "#4d4d4d");
    a.selectAll(".tick text").attr("fill", "#262626");
  };
  g.append("g").attr("transform", `translate(0,${PH})`)
    .call(d3.axisBottom(x).tickValues(xTicks).tickFormat(d3.format("d")).tickSizeInner(-4).tickSizeOuter(0).tickPadding(12))
    .call(styleAxis);
  g.append("g")
    .call(d3.axisLeft(y).tickValues(yTicks).tickFormat(d3.format("d")).tickSizeInner(-4).tickSizeOuter(0).tickPadding(6))
    .call(styleAxis);
  g.append("g")
    .call(d3.axisTop(x).tickValues(xTicks).tickFormat("").tickSizeInner(-4).tickSizeOuter(0))
    .call(styleAxis);
  g.append("g").attr("transform", `translate(${PW},0)`)
    .call(d3.axisRight(y).tickValues(yTicks).tickFormat("").tickSizeInner(-4).tickSizeOuter(0))
    .call(styleAxis);

  // box
  g.append("rect").attr("x", 0.5).attr("y", 0.5).attr("width", PW).attr("height", PH)
    .attr("fill", "none").attr("stroke", "#5a5a5a").attr("stroke-width", 1);

  // title and labels
  g.append("text").attr("x", PW / 2).attr("y", -4).attr("text-anchor", "middle")
    .attr("font-family", FONT).attr("font-size", 14.5).attr("font-weight", "bold").attr("fill", "#000")
    .text(panelTitles[p]);
  g.append("text").attr("x", PW / 2).attr("y", PH + 42.5).attr("text-anchor", "middle")
    .attr("font-family", FONT).attr("font-size", 15.5).attr("fill", "#262626").text(xLabel);
  g.append("text").attr("transform", `translate(-38,${PH / 2}) rotate(-90)`)
    .attr("text-anchor", "middle").attr("dy", "0.35em")
    .attr("font-family", FONT).attr("font-size", 15.5).attr("fill", "#262626").text(yLabel);
});

// legend
const legend = svg.append("g").attr("transform", "translate(11,247.7)");
const legendY = d3.scalePoint().domain(regions).range([0, 118]);
regions.forEach(r => {
  const row = legend.append("g").attr("transform", `translate(0,${legendY(r)})`);
  row.append("line").attr("x1", 0).attr("x2", 42).attr("y1", 0).attr("y2", 0)
    .attr("stroke", colors[r]).attr("stroke-width", 1.6);
  row.append("text").attr("x", 46).attr("y", 0).attr("dy", "0.35em")
    .attr("font-family", FONT).attr("font-size", 11.3).attr("fill", "#1a1a1a").text(r);
});
</script>
</body></html>
